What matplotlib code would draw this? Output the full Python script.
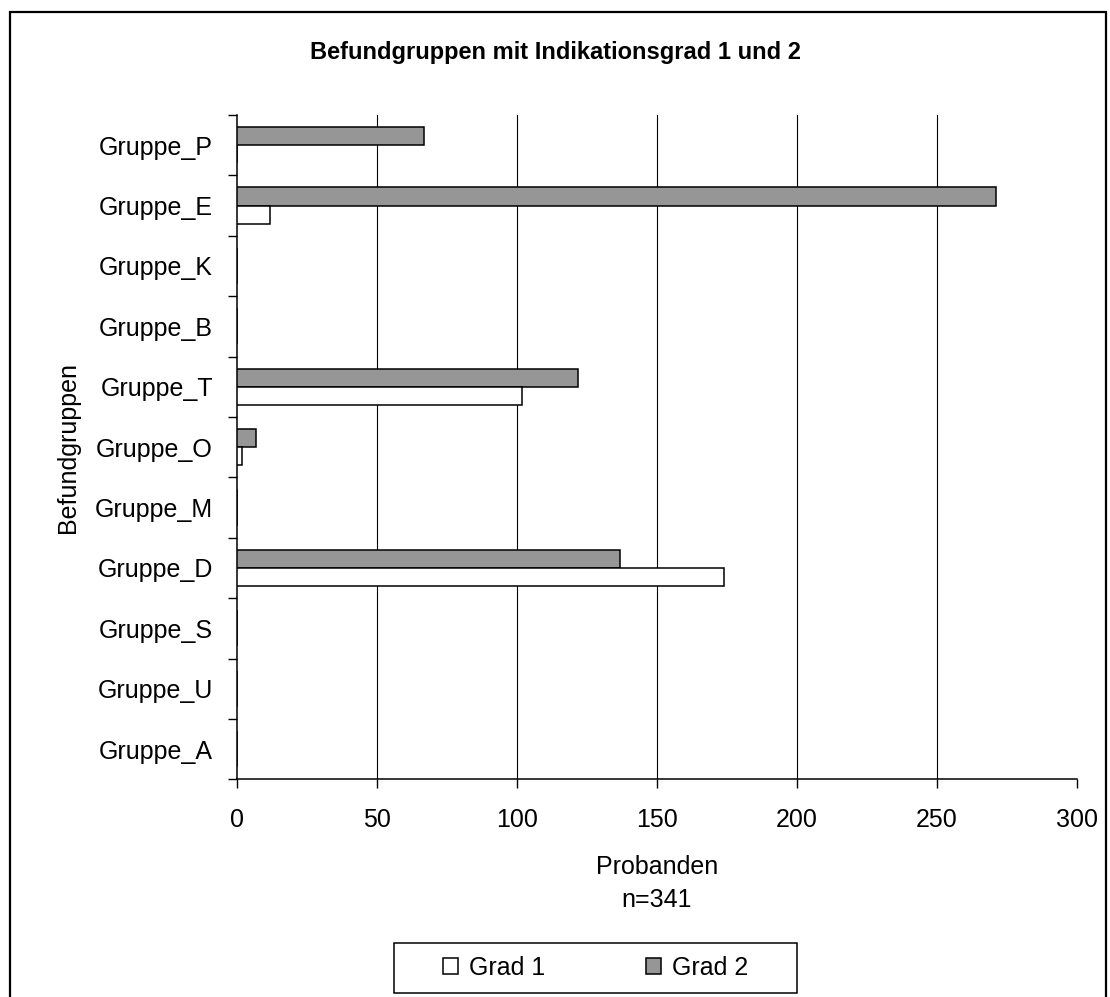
import matplotlib
matplotlib.use("Agg")
import matplotlib.pyplot as plt
import matplotlib.patches as mpatches
import numpy as np

# Daten (von oben nach unten wie im Bild)
gruppen = ["Gruppe_P", "Gruppe_E", "Gruppe_K", "Gruppe_B", "Gruppe_T", "Gruppe_O",
           "Gruppe_M", "Gruppe_D", "Gruppe_S", "Gruppe_U", "Gruppe_A"]
grad1 = [0, 12, 0, 0, 102, 2, 0, 174, 0, 0, 0]
grad2 = [67, 271, 0, 0, 122, 7, 0, 137, 0, 0, 0]
xticks = [0, 50, 100, 150, 200, 250, 300]

plt.rcParams['font.family'] = ['Liberation Sans', 'DejaVu Sans']

W, H = 1110, 997
fig = plt.figure(figsize=(W / 100, H / 100), dpi=100)
fig.patch.set_facecolor("white")

# Achsen in Pixeln
left, right, top, bottom = 236.7, 1076.7, 115, 779.3
ax = fig.add_axes([left / W, 1 - bottom / H, (right - left) / W, (bottom - top) / H])

y = np.arange(len(gruppen))
h = 0.3
ax.barh(y - h / 2, grad2, height=h, color="#969696", edgecolor="black",
        linewidth=1.1, zorder=3, label="Grad 2")
ax.barh(y + h / 2, grad1, height=h, color="white", edgecolor="black",
        linewidth=1.1, zorder=3, label="Grad 1")

ax.set_xlim(0, 300)
ax.set_ylim(len(gruppen) - 0.5, -0.5)
ax.set_xticks(xticks)

# Gitterlinien (nicht bei 300)
for xv in xticks[1:-1]:
    ax.axvline(xv, color="black", linewidth=0.8, zorder=1)

# Kategorie-Ticks an den Grenzen, Labels in der Mitte
ax.set_yticks(np.arange(-0.5, len(gruppen)), minor=False)
ax.set_yticklabels([])
ax.set_yticks(y, minor=True)
ax.set_yticklabels(gruppen, minor=True)
ax.tick_params(axis="y", which="major", direction="out", length=6.5, width=1.0)
ax.tick_params(axis="y", which="minor", length=0, labelsize=18, pad=17)
ax.tick_params(axis="x", direction="out", length=6.5, width=1.0, labelsize=18, pad=14)

for s in ["top", "right"]:
    ax.spines[s].set_visible(False)
for s in ["left", "bottom"]:
    ax.spines[s].set_linewidth(1.1)

ax.set_xlabel("Probanden\nn=341", fontsize=18, labelpad=17, linespacing=1.45)
ax.set_ylabel("Befundgruppen", fontsize=18)
ax.yaxis.set_label_coords((80 - left) / (right - left), 0.5)

fig.text(555 / W, 1 - 52 / H, "Befundgruppen mit Indikationsgrad 1 und 2",
         ha="center", va="center", fontsize=17, fontweight="bold")

# Legende
hnd, lab = ax.get_legend_handles_labels()
leg = fig.legend(hnd[::-1], lab[::-1], loc="center", bbox_to_anchor=(595.5 / W, 1 - 968 / H),
                 ncol=2, frameon=False, fontsize=18, handlelength=0.6, handleheight=0.6,
                 handletextpad=0.45, columnspacing=4.0)
fig.add_artist(mpatches.Rectangle((394 / W, 1 - 993 / H), 403 / W, 50 / H,
                                  transform=fig.transFigure, fill=False,
                                  edgecolor="black", linewidth=1.1))

# Rahmen ums Diagramm
fig.add_artist(mpatches.Rectangle((9.5 / W, -0.05), (1106 - 9.5) / W, 1.05 - 12 / H,
                                  transform=fig.transFigure, fill=False,
                                  edgecolor="black", linewidth=1.6))

fig.savefig("out.png", dpi=100)
